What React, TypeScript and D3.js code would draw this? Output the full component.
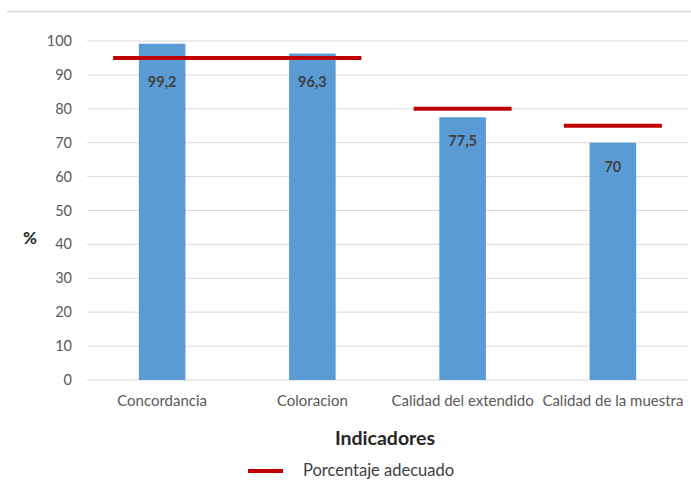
import React from "react";
import * as d3 from "d3";

const categories = ["Concordancia", "Coloracion", "Calidad del extendido", "Calidad de la muestra"];
const values = [99.2, 96.3, 77.5, 70];
const valueLabels = ["99,2", "96,3", "77,5", "70"];
const targets = [95, 95, 80, 75];
const yTicks = [0, 10, 20, 30, 40, 50, 60, 70, 80, 90, 100];

const W = 691;
const H = 480;
const FONT = "Lato, 'Open Sans', sans-serif";

export default function App() {
  const x = d3.scaleBand<string>().domain(categories).range([87, 688]).paddingInner(0.69).paddingOuter(0.345);
  const y = d3.scaleLinear().domain([0, 100]).range([380, 41]);
  const bw = x.bandwidth();
  const seg = 49;

  return (
    <svg width={W} height={H} style={{ position: "absolute", left: 0, top: 0, background: "#fff" }} fontFamily={FONT}>
      <line x1={7} x2={691} y1={11.5} y2={11.5} stroke="#d9d9d9" strokeWidth={1.5} />
      {yTicks.map((t) => (
        <g key={t}>
          <line x1={87} x2={688} y1={y(t)} y2={y(t)} stroke="#d9d9d9" strokeWidth={1} />
          <text x={72} y={y(t)} dy="0.35em" textAnchor="end" fontSize={14.5} fill="#595959">{t}</text>
        </g>
      ))}
      {categories.map((c, i) => (
        <rect key={c} x={x(c)} y={y(values[i])} width={bw} height={y(0) - y(values[i])} fill="#5b9bd5" />
      ))}
      {categories.map((c, i) => {
        const cx = (x(c) as number) + bw / 2;
        return (
          <line key={"t" + c} x1={cx - seg} x2={cx + seg} y1={y(targets[i])} y2={y(targets[i])} stroke="#c00000" strokeWidth={4} />
        );
      })}
      {categories.slice(0, -1).map((c, i) => {
        if (targets[i] !== targets[i + 1]) return null;
        const a = (x(c) as number) + bw / 2;
        const b = (x(categories[i + 1]) as number) + bw / 2;
        return <line key={"j" + c} x1={a} x2={b} y1={y(targets[i])} y2={y(targets[i])} stroke="#c00000" strokeWidth={4} />;
      })}
      {categories.map((c, i) => {
        const cx = (x(c) as number) + bw / 2;
        // value labels sit just below whichever is lower: the bar top or the target line
        const ly = Math.max(y(values[i]), y(targets[i]));
        return (
          <text key={"l" + c} x={cx} y={ly + 24} dy="0.35em" textAnchor="middle" fontSize={14.5} fontWeight="bold" fill="#404040">
            {valueLabels[i]}
          </text>
        );
      })}
      {categories.map((c) => (
        <text key={"c" + c} x={(x(c) as number) + bw / 2} y={401} dy="0.35em" textAnchor="middle" fontSize={15} fill="#595959">{c}</text>
      ))}
      <text x={30} y={238} dy="0.35em" textAnchor="middle" fontSize={17} fontWeight="bold" fill="#262626">%</text>
      <text x={385} y={438} dy="0.35em" textAnchor="middle" fontSize={19.5} fontWeight="bold" fill="#262626">Indicadores</text>
      <line x1={248} x2={283} y1={471} y2={471} stroke="#c00000" strokeWidth={4} />
      <text x={303} y={470} dy="0.35em" fontSize={16.5} fill="#404040">Porcentaje adecuado</text>
    </svg>
  );
}
